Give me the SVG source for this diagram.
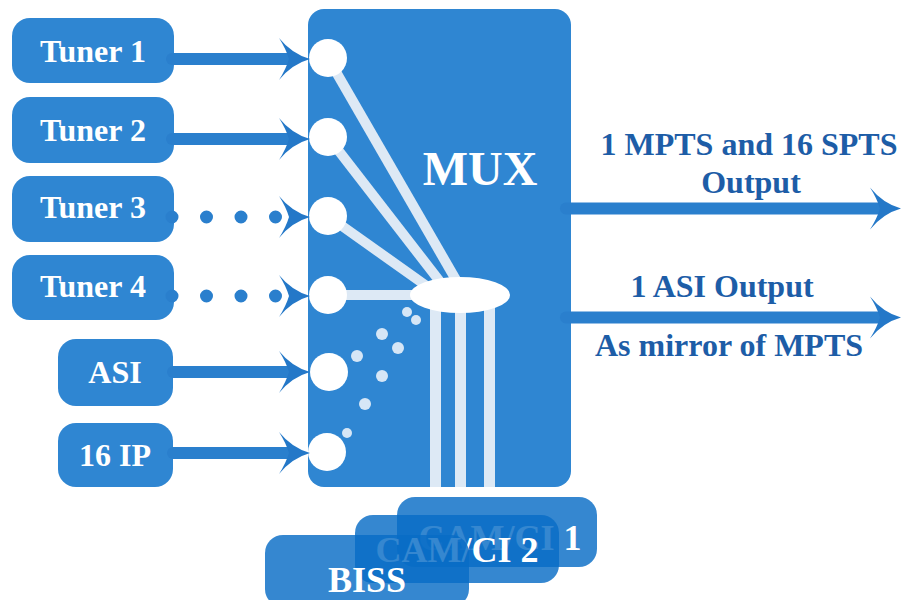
<svg xmlns="http://www.w3.org/2000/svg" xmlns:xlink="http://www.w3.org/1999/xlink" width="901" height="600" viewBox="0 0 901 600">
<style>
.box{fill:#2f86d2}
.lbl{font-family:"Liberation Serif","Times New Roman",serif;font-weight:bold;fill:#ffffff;text-anchor:middle}
.out{font-family:"Liberation Serif","Times New Roman",serif;font-weight:bold;fill:#1d5da7;text-anchor:middle;font-size:32px}
.wire{stroke:#2a7fcd;stroke-width:12;stroke-linecap:round;fill:none}
.dots{stroke:#2a7fcd;stroke-width:13;stroke-linecap:round;stroke-dasharray:0 34.5;fill:none}
.ah{fill:#2478c8}
.ray{stroke:#dde9f5;stroke-width:10;fill:none}
.port{fill:#ffffff}
.bub{fill:#d6e6f6}
.card{fill:#086cc6;fill-opacity:0.82}
</style>
<defs>
<path id="ah" d="M0,0 Q-18,-5 -31,-21 Q-24,-10 -21,0 Q-24,10 -31,21 Q-18,5 0,0 Z"/>
</defs>

<g id="mux">
<rect class="box" x="308" y="9" width="263" height="478" rx="16"/>
<line class="ray" x1="328" y1="58" x2="463" y2="292"/>
<line class="ray" x1="328" y1="137" x2="448" y2="292"/>
<line class="ray" x1="328" y1="216" x2="435" y2="292"/>
<line class="ray" x1="328" y1="295" x2="432" y2="295"/>
<rect x="430" y="300" width="11" height="187" fill="#dde9f5"/>
<rect x="455" y="300" width="11" height="187" fill="#dde9f5"/>
<rect x="484" y="300" width="11" height="187" fill="#dde9f5"/>
<ellipse cx="460" cy="295" rx="50" ry="18" fill="#ffffff"/>
<circle class="port" cx="328" cy="58" r="19"/>
<circle class="port" cx="328" cy="137" r="19"/>
<circle class="port" cx="328" cy="216" r="19"/>
<circle class="port" cx="328" cy="295" r="19"/>
<circle class="port" cx="329" cy="372" r="19"/>
<circle class="port" cx="327" cy="452" r="19"/>
<circle class="bub" cx="407" cy="312" r="5"/>
<circle class="bub" cx="416" cy="320" r="5"/>
<circle class="bub" cx="382" cy="334" r="6"/>
<circle class="bub" cx="398" cy="348" r="6"/>
<circle class="bub" cx="357" cy="356" r="6"/>
<circle class="bub" cx="382" cy="376" r="6"/>
<circle class="bub" cx="365" cy="404" r="6"/>
<circle class="bub" cx="347" cy="433" r="5"/>
<text class="lbl" x="480" y="185" font-size="48">MUX</text>
</g>

<g id="tuner1"><rect class="box" x="12" y="18" width="162" height="65" rx="18"/><text class="lbl" x="93" y="62" font-size="32">Tuner 1</text></g>
<g id="tuner2"><rect class="box" x="12" y="97" width="162" height="66" rx="18"/><text class="lbl" x="93" y="141" font-size="32">Tuner 2</text></g>
<g id="tuner3"><rect class="box" x="12" y="176" width="162" height="66" rx="18"/><text class="lbl" x="93" y="218" font-size="32">Tuner 3</text></g>
<g id="tuner4"><rect class="box" x="12" y="255" width="162" height="65" rx="18"/><text class="lbl" x="93" y="297" font-size="32">Tuner 4</text></g>
<g id="asi"><rect class="box" x="58" y="339" width="115" height="67" rx="18"/><text class="lbl" x="115" y="383" font-size="32">ASI</text></g>
<g id="ip16"><rect class="box" x="58" y="423" width="115" height="64" rx="18"/><text class="lbl" x="115" y="466" font-size="32">16 IP</text></g>

<g id="connectors">
<line class="wire" x1="172" y1="59" x2="292" y2="59"/>
<use href="#ah" class="ah" transform="translate(310,59)"/>
<line class="wire" x1="172" y1="139" x2="292" y2="139"/>
<use href="#ah" class="ah" transform="translate(310,139)"/>
<line class="dots" x1="172" y1="217" x2="276" y2="217"/>
<use href="#ah" class="ah" transform="translate(310,217)"/>
<line class="dots" x1="172" y1="296" x2="276" y2="296"/>
<use href="#ah" class="ah" transform="translate(310,296)"/>
<line class="wire" x1="173" y1="372" x2="292" y2="372"/>
<use href="#ah" class="ah" transform="translate(310,372)"/>
<line class="wire" x1="173" y1="453" x2="292" y2="453"/>
<use href="#ah" class="ah" transform="translate(310,453)"/>
<line class="wire" x1="566" y1="208.5" x2="883" y2="208.5"/>
<use href="#ah" class="ah" transform="translate(901,208.5)"/>
<line class="wire" x1="566" y1="317.5" x2="883" y2="317.5"/>
<use href="#ah" class="ah" transform="translate(901,317.5)"/>
</g>

<g id="labels">
<text class="out" x="749" y="155">1 MPTS and 16 SPTS</text>
<text class="out" x="751" y="193">Output</text>
<text class="out" x="722" y="297">1 ASI Output</text>
<text class="out" x="729" y="356">As mirror of MPTS</text>
</g>

<g id="camci1"><rect class="card" x="397" y="497" width="200" height="70" rx="18"/><text class="lbl" x="500" y="550" font-size="36">CAM/CI 1</text></g>
<g id="camci2"><rect class="card" x="355" y="515" width="204" height="68" rx="18"/><text class="lbl" x="457" y="562" font-size="36">CAM/CI 2</text></g>
<g id="biss"><rect class="card" x="265" y="535" width="204" height="72" rx="18"/><text class="lbl" x="367" y="592" font-size="36">BISS</text></g>
</svg>
